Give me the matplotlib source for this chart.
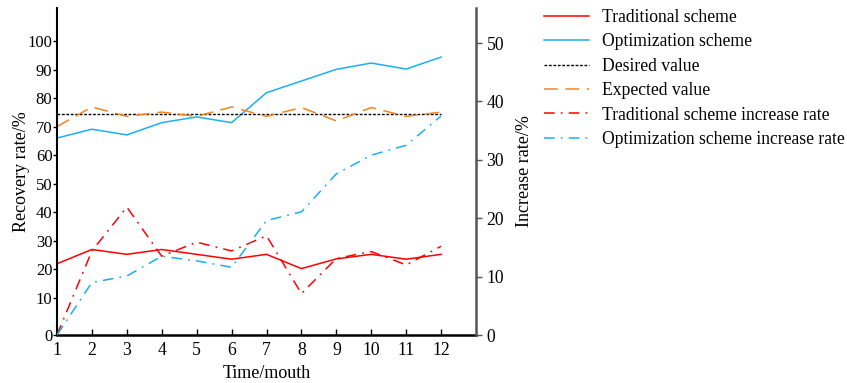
import matplotlib
matplotlib.use('Agg')
import matplotlib.pyplot as plt

# --- data --- #
months = [1, 2, 3, 4, 5, 6, 7, 8, 9, 10, 11, 12]

traditional = [21.9, 26.9, 25.2, 26.9, 25.2, 23.5, 25.2, 20.2, 23.6, 25.2, 23.5, 25.2]
optimization = [66.0, 69.1, 67.1, 71.4, 73.4, 71.4, 81.9, 86.0, 90.1, 92.3, 90.2, 94.4]
desired = [74.4] * 12
expected = [70.0, 76.9, 73.6, 75.1, 73.6, 76.9, 73.6, 76.7, 72.0, 76.7, 73.6, 75.1]

# increase rates, right axis
trad_rate = [0.0, 14.4, 21.9, 13.5, 15.9, 14.4, 17.0, 7.1, 13.1, 14.3, 12.0, 15.2]
opt_rate = [0.0, 9.0, 10.1, 13.5, 12.7, 11.6, 19.6, 21.1, 27.6, 30.8, 32.5, 37.5]

left_ticks = [10, 20, 30, 40, 50, 60, 70, 80, 90, 100]
right_ticks = [0, 10, 20, 30, 40, 50]

RED = '#ff0000'
BLUE = '#1ab0ee'
ORANGE = '#f5821f'

plt.rcParams['font.family'] = ['Liberation Serif', 'DejaVu Serif']
plt.rcParams['font.size'] = 13

fig = plt.figure(figsize=(8.47, 3.83), dpi=100)
ax = fig.add_axes([0.0673, 0.1253, 0.4947, 0.8537])
ax2 = ax.twinx()

l1, = ax.plot(months, traditional, color=RED, lw=1.1, label='Traditional scheme')
l2, = ax.plot(months, optimization, color=BLUE, lw=1.1, label='Optimization scheme')
l3, = ax.plot(months, desired, color='black', lw=1.0, ls=(0, (2, 1.2)), label='Desired value')
l4, = ax.plot(months, expected, color=ORANGE, lw=1.1, ls=(0, (9, 5)), label='Expected value')
l5, = ax2.plot(months, trad_rate, color=RED, lw=1.1, ls=(0, (7, 4, 1.2, 4)),
               label='Traditional scheme increase rate')
l6, = ax2.plot(months, opt_rate, color=BLUE, lw=1.1, ls=(0, (7, 4, 1.2, 4)),
               label='Optimization scheme increase rate')

# left axis: "0" label sits at the bottom edge
bottom = -3.1
ax.set_ylim(bottom, 111.6)
ax.set_yticks([bottom] + left_ticks)
ax.set_yticklabels(['0'] + [str(t) for t in left_ticks])
ax.set_xlim(1, 13)
ax.set_xticks(months)
ax2.set_ylim(0, 56)
ax2.set_yticks(right_ticks)

ax.tick_params(axis='y', direction='out', length=3, width=1, pad=0.3, labelsize=12)
ax.tick_params(axis='x', direction='in', length=4, width=1, pad=5, labelsize=12.7)
ax2.tick_params(axis='y', direction='out', length=4, width=1, color='#555555', pad=3.5,
                labelsize=12.7)

for a in (ax, ax2):
    a.spines['top'].set_visible(False)
ax.spines['right'].set_visible(False)
ax2.spines['left'].set_visible(False)
ax2.spines['bottom'].set_visible(False)
ax.spines['left'].set_linewidth(1.5)
ax.spines['bottom'].set_linewidth(1.8)
ax2.spines['right'].set_linewidth(1.8)
ax2.spines['right'].set_color('#555555')

ax.set_xlabel('Time/mouth', labelpad=4)
ax.set_ylabel('Recovery rate/%')
ax2.set_ylabel('Increase rate/%', rotation=90)
ax.yaxis.set_label_coords(-0.064, 0.5)
ax2.yaxis.set_label_coords(1.095, 0.5)

fig.legend(handles=[l1, l2, l3, l4, l5, l6], loc='upper left',
           bbox_to_anchor=(0.623, 1.018), frameon=False, handlelength=2.6,
           handletextpad=0.74, labelspacing=0.42, fontsize=12.7)

fig.savefig('out.png', dpi=100)
